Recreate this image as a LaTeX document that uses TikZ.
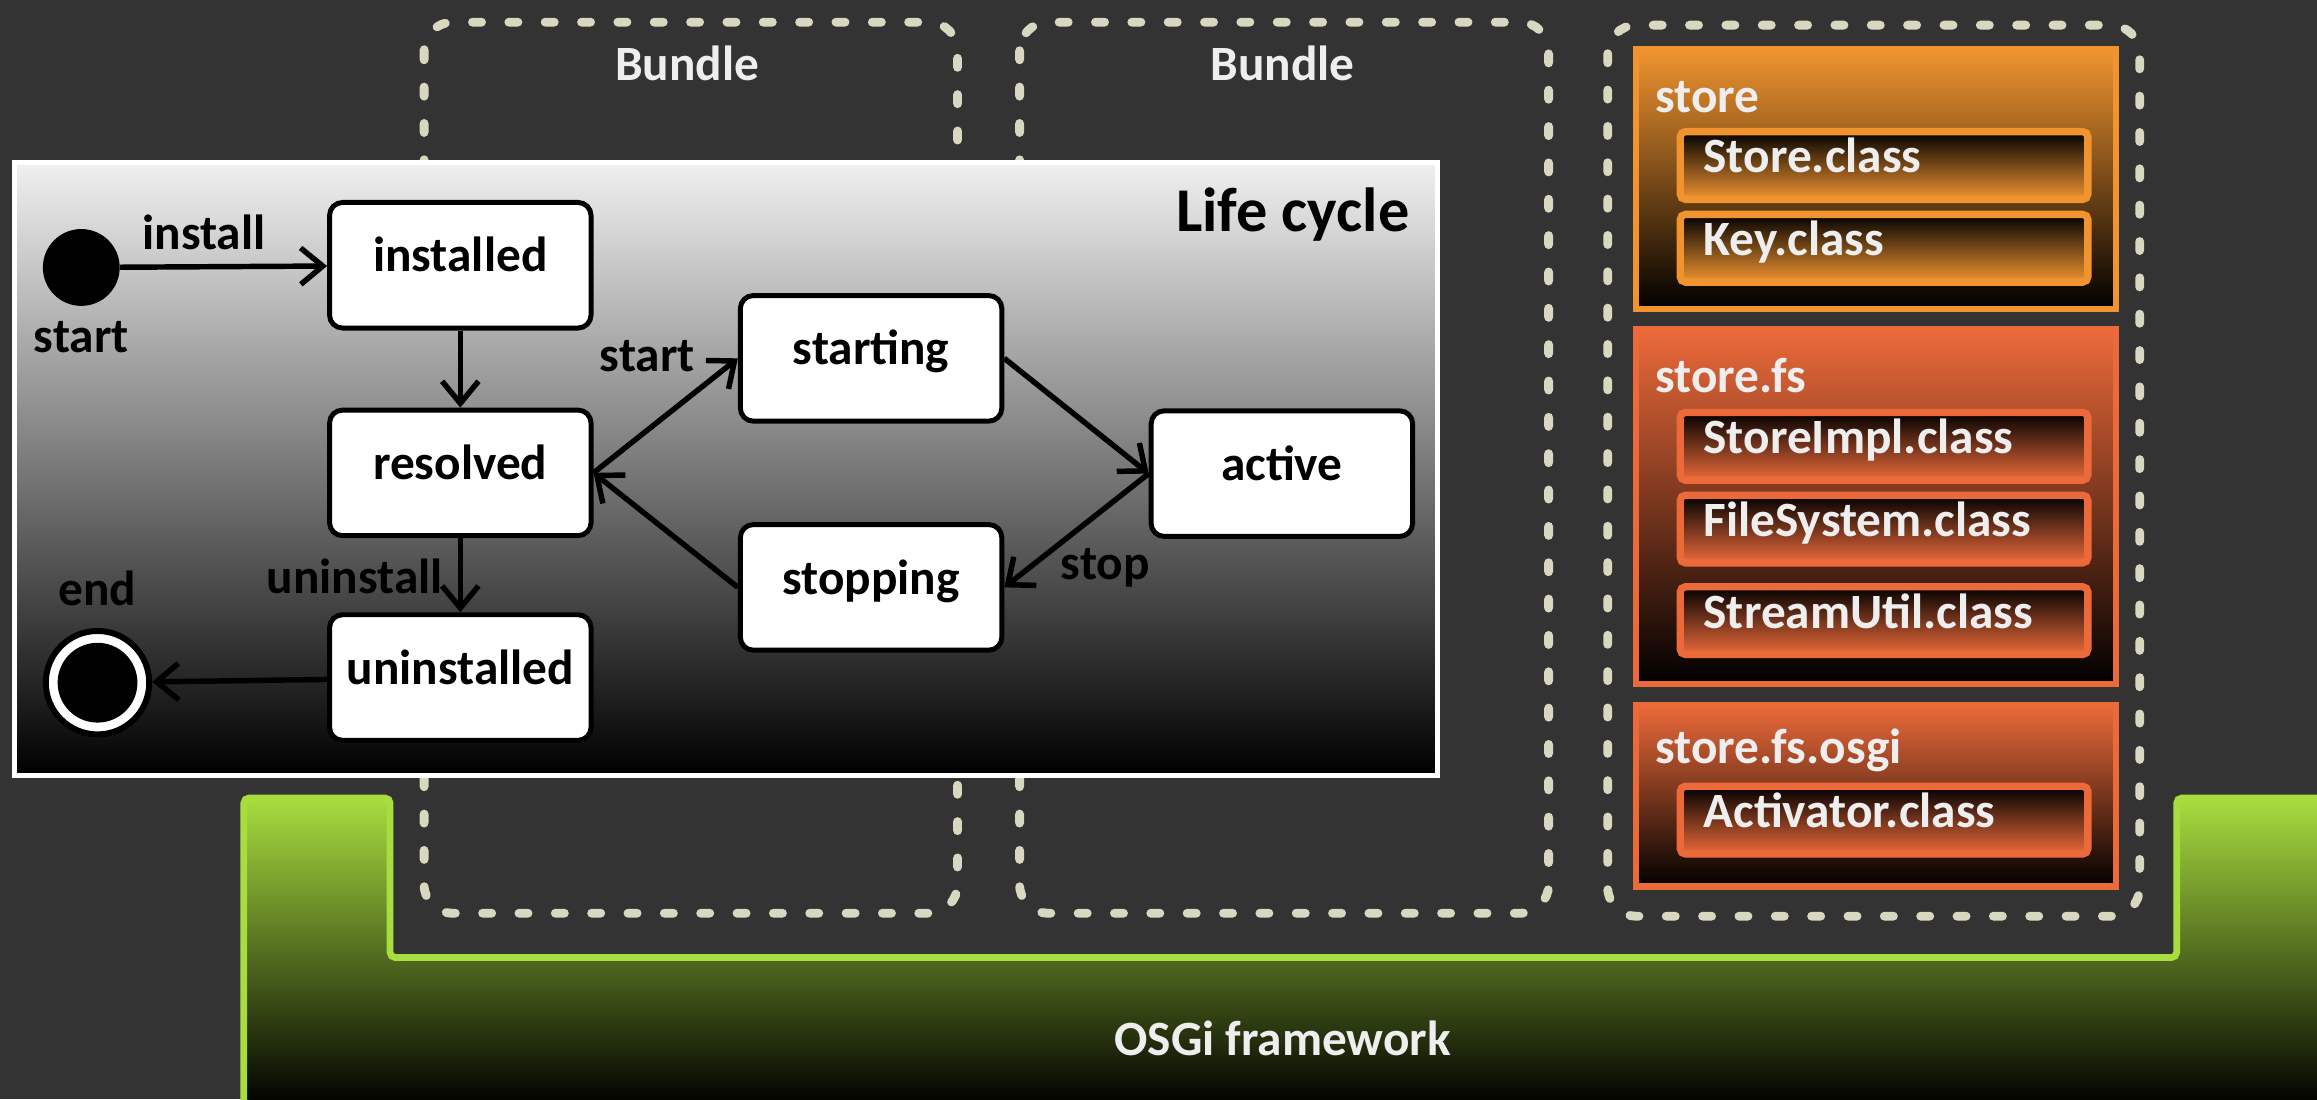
\documentclass[tikz,border=0pt]{standalone}
\usepackage{fontspec}
\setmainfont{Carlito}
\usetikzlibrary{
    arrows.meta,
    positioning,
    calc
}

\definecolor{bgdark}{RGB}{51,51,51}
\definecolor{dashcol}{RGB}{216,216,192}
\definecolor{paneltop}{RGB}{240,240,240}
\definecolor{storeor}{RGB}{241,148,48}
\definecolor{fsor}{RGB}{236,106,58}
\definecolor{osgigreen}{RGB}{168,221,63}
\definecolor{txtwhite}{RGB}{238,238,238}

\newcommand{\bigtxt}{\fontsize{19}{23}\selectfont\bfseries}
\newcommand{\titletxt}{\fontsize{24}{28}\selectfont\bfseries}

\begin{document}
\begin{tikzpicture}[x=0.02cm, y=-0.02cm,
        >={Straight Barb[length=8.5pt,width=14pt]},
        statebox/.style={
            % The shape:
            rectangle, rounded corners=5pt,
            % The size:
            minimum width=3.54cm, text height=0.94cm, text depth=0.76cm, inner sep=0pt,
            % The border
            line width=1.9pt, draw=black,
            % The filling
            fill=white, font=\bigtxt},
        lbl/.style={font=\bigtxt, inner sep=1pt},
        edgeline/.style={line width=2.1pt, ->},
        bundlebox/.style={dashcol, line width=3.4pt, line cap=round,
            dash pattern=on 3.5pt off 10.5pt, rounded corners=11pt},
        pkg/.style={draw=#1, line width=2.5pt, top color=#1, bottom color=black},
        pkgtitle/.style={font=\bigtxt, text=txtwhite, anchor=west, inner sep=0pt},
        cls/.style={
            % The shape:
            rectangle, rounded corners=2pt,
            % The size:
            text width=139pt, inner xsep=9pt, inner ysep=0pt,
            text height=15.9pt, text depth=10.2pt, align=left,
            % The border
            line width=2.8pt, draw=#1,
            % The filling
            top color=black, bottom color=#1,
            font=\bigtxt, text=txtwhite}]

        % page and background
        \useasboundingbox (0,0) rectangle (1568,744);
        \fill[bgdark] (0,0) rectangle (1568,744);

        % bundles
        \draw[bundlebox] (287,15) rectangle (648,618);
        \draw[bundlebox] (690,15) rectangle (1048,618);
        \draw[bundlebox] (1088,17) rectangle (1448,620);
        \node[font=\bigtxt, text=txtwhite] (bundleA) at (465,43) {Bundle};
        \node[font=\bigtxt, text=txtwhite] (bundleB) at (868,43) {Bundle};

        % life cycle panel
        \draw[white, line width=2pt, top color=paneltop, bottom color=black] (10,110) rectangle (973,525);
        \node[font=\titletxt, anchor=east] (lctitle) at (960,145) {Life cycle};

        \node[circle, fill=black, minimum size=1.04cm, inner sep=0pt] (init) at (55,181) {};
        \node[circle, draw=black, fill=white, line width=2.3pt, minimum size=1.4cm, inner sep=0pt] (final) at (66,462) {};
        \fill[black] (final) circle (0.54cm);

        \node[statebox] (installed) at (311.5,179.5) {installed};
        \node[statebox] (resolved) at (311.5,320) {resolved};
        \node[statebox] (uninstalled) at (311.5,458.5) {uninstalled};
        \node[statebox] (starting) at (589.5,242.5) {starting};
        \node[statebox] (stopping) at (589.5,397.5) {stopping};
        \node[statebox] (active) at (867.5,320.5) {active};

        \node[lbl] (lblinit) at (55,228) {start};
        \node[lbl] (lblend) at (66,398) {end};
        \node[lbl] (lblinstall) at (138,157) {install};
        \node[lbl] (lblstart) at (438,241) {start};
        \node[lbl] (lbluninstall) at (240,390) {uninstall};
        \node[lbl] (lblstop) at (748,384) {stop};

        \draw[edgeline] (init) -- (installed);
        \draw[edgeline] (installed) -- (resolved);
        \draw[edgeline] (resolved) -- (uninstalled);
        \draw[edgeline] (uninstalled) -- (final);
        \draw[edgeline] (resolved.east) -- (starting.west);
        \draw[edgeline] (starting.east) -- (active.west);
        \draw[edgeline] (active.west) -- (stopping.east);
        \draw[edgeline] (stopping.west) -- (resolved.east);

        % packages
        \draw[pkg=storeor] (1107,33) rectangle (1432,209);
        \draw[pkg=fsor] (1107,223) rectangle (1432,463);
        \draw[pkg=fsor] (1107,477) rectangle (1432,600);
        \node[pkgtitle] (pstore) at (1120,66) {store};
        \node[pkgtitle] (pfs) at (1120,254) {store.fs};
        \node[pkgtitle] (posgi) at (1120,508) {store.fs.osgi};

        \node[cls=storeor] (cstore) at (1275,112) {Store.class};
        \node[cls=storeor] (ckey) at (1275,168) {Key.class};
        \node[cls=fsor] (cimpl) at (1275,302) {StoreImpl.class};
        \node[cls=fsor] (cfile) at (1275,358) {FileSystem.class};
        \node[cls=fsor] (cstream) at (1275,420) {StreamUtil.class};
        \node[cls=fsor] (cact) at (1275,555) {Activator.class};

        % framework
        \draw[osgigreen, line width=2.6pt, rounded corners=2pt, top color=osgigreen, bottom color=black]
            (165,540) -- (264,540) -- (264,648) -- (1473,648) -- (1473,540)
            -- (1572,540) -- (1572,748) -- (165,748) -- cycle;
        \node[font=\bigtxt, text=txtwhite] (osgi) at (868,703) {OSGi framework};

\end{tikzpicture}
\end{document}
